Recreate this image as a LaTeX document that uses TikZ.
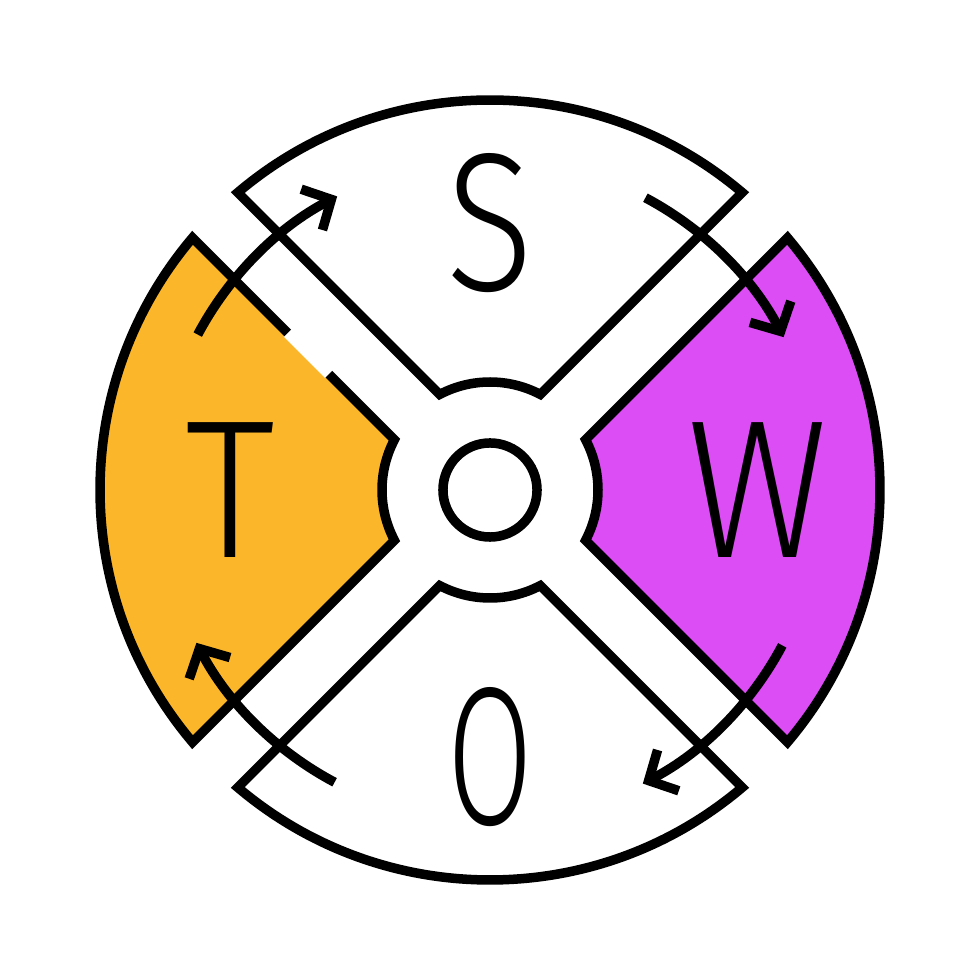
\documentclass[tikz,border=0pt]{standalone}
\usepackage{fontspec}
\usetikzlibrary{arrows.meta}
\IfFontExistsTF{Fira Sans Light}{\newfontfamily\swotfont{Fira Sans Light}}{\newfontfamily\swotfont{Fira Sans}}
\definecolor{myAmber}{RGB}{252, 182, 42}
\definecolor{myViolet}{RGB}{221, 77, 246}
\newcommand{\swotletter}[2]{\scalebox{#1}[1]{#2}}

\begin{document}
\begin{tikzpicture}[
    x=0.01cm, y=0.01cm,
    line width=0.095cm,
    >={Straight Barb[sharp, length=2.2mm, width=4.6mm]},
    % Styles
    quad_sector/.style={
        draw=black, line join=miter
    },
    hub/.style={
        circle, draw=black, inner sep=0pt, minimum size=0.94cm
    },
    letter/.style={
        inner sep=0pt, font=\swotfont\fontsize{56}{56}\selectfont
    },
    swot_arrow/.style={
        ->, line cap=butt
    }
]
    \useasboundingbox[fill=white] (-490,-490) rectangle (490,490);
    \pgfmathsetmacro{\ao}{asin(32/390)}
    \pgfmathsetmacro{\ai}{asin(32/108)}

    % --- 1. The four sectors ---
    \foreach \c/\col in {90/white, 0/myViolet, -90/white, 180/myAmber} {
        \draw[quad_sector, fill=\col]
            (\c-45+\ao:390) arc[start angle=\c-45+\ao, end angle=\c+45-\ao, radius=390]
            -- (\c+45-\ai:108) arc[start angle=\c+45-\ai, end angle=\c-45+\ai, radius=108] -- cycle;
    }
    % broken edge on the T sector
    \draw[white, line width=0.11cm] (-202,157) -- (-161,116);

    % --- 2. Hub ---
    \node[hub] (hub) at (0,0) {};

    % --- 3. Letters ---
    \node[letter] (S) at (90:267) {\swotletter{0.82}{S}};
    \node[letter] (W) at (0:268) {\swotletter{0.88}{W}};
    \node[letter] (O) at (-90:267) {\swotletter{0.63}{O}};
    \node[letter] (T) at (180:260) {\swotletter{0.92}{T}};

    % --- 4. Clockwise arrows ---
    \foreach \k in {0,1,2,3} {
        \draw[swot_arrow] (152-90*\k:331) arc[start angle=152-90*\k, end angle=117.5-90*\k, radius=331];
    }

\end{tikzpicture}
\end{document}
